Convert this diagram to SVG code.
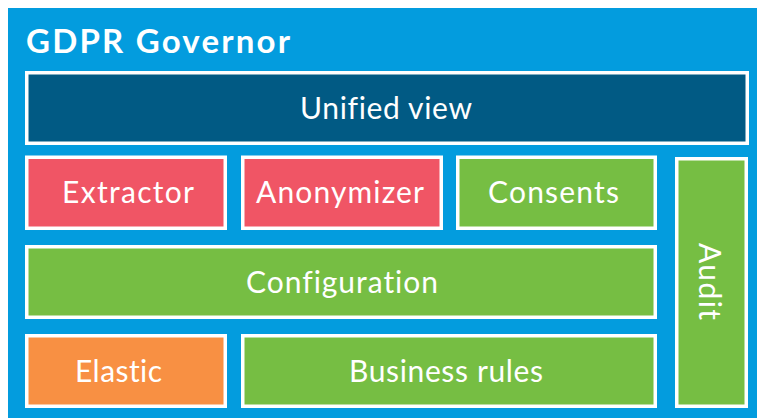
<svg xmlns="http://www.w3.org/2000/svg" width="757" height="418" viewBox="0 0 757 418">
  <style>
    .box { stroke: #ffffff; stroke-width: 3.5; }
    .dark { fill: #015A84; }
    .red { fill: #F05565; }
    .green { fill: #76BE43; }
    .orange { fill: #F89043; }
    .label { font-family: Lato, "Open Sans", sans-serif; font-size: 30px; fill: #ffffff; text-anchor: middle; dominant-baseline: central; font-variant-ligatures: none; }
    .title { font-family: Lato, "Open Sans", sans-serif; font-size: 33px; font-weight: bold; fill: #ffffff; }
  </style>
  <!-- container -->
  <g id="governor">
    <rect x="8" y="8" width="749" height="410" fill="#039CDE"/>
    <text class="title" x="26" y="53" textLength="264" lengthAdjust="spacing">GDPR Governor</text>
  </g>
  <g id="unified-view">
    <rect class="box dark" x="26.75" y="72.75" width="720.5" height="70.5"/>
    <text class="label" x="386" y="107" textLength="172" lengthAdjust="spacing">Unified view</text>
  </g>
  <g id="extractor">
    <rect class="box red" x="26.75" y="157.25" width="198.5" height="71"/>
    <text class="label" x="128" y="191" textLength="132" lengthAdjust="spacing">Extractor</text>
  </g>
  <g id="anonymizer">
    <rect class="box red" x="242.75" y="157.25" width="198.5" height="71"/>
    <text class="label" x="340" y="191" textLength="168" lengthAdjust="spacing">Anonymizer</text>
  </g>
  <g id="consents">
    <rect class="box green" x="457.75" y="157.25" width="197.5" height="71"/>
    <text class="label" x="553.5" y="191" textLength="131" lengthAdjust="spacing">Consents</text>
  </g>
  <g id="audit">
    <rect class="box green" x="676.75" y="158.75" width="69.5" height="247.5"/>
    <text class="label" transform="translate(711 281.5) rotate(90)" x="0" y="0" textLength="77" lengthAdjust="spacing">Audit</text>
  </g>
  <g id="configuration">
    <rect class="box green" x="26.75" y="246.75" width="628.5" height="70.5"/>
    <text class="label" x="342" y="281" textLength="192" lengthAdjust="spacing">Configuration</text>
  </g>
  <g id="elastic">
    <rect class="box orange" x="26.75" y="335.75" width="198.5" height="70.5"/>
    <text class="label" x="118.5" y="370" textLength="87" lengthAdjust="spacing">Elastic</text>
  </g>
  <g id="business-rules">
    <rect class="box green" x="242.75" y="335.75" width="412.5" height="70.5"/>
    <text class="label" x="446" y="370" textLength="194" lengthAdjust="spacing">Business rules</text>
  </g>
  <g id="connectors"/>
</svg>
